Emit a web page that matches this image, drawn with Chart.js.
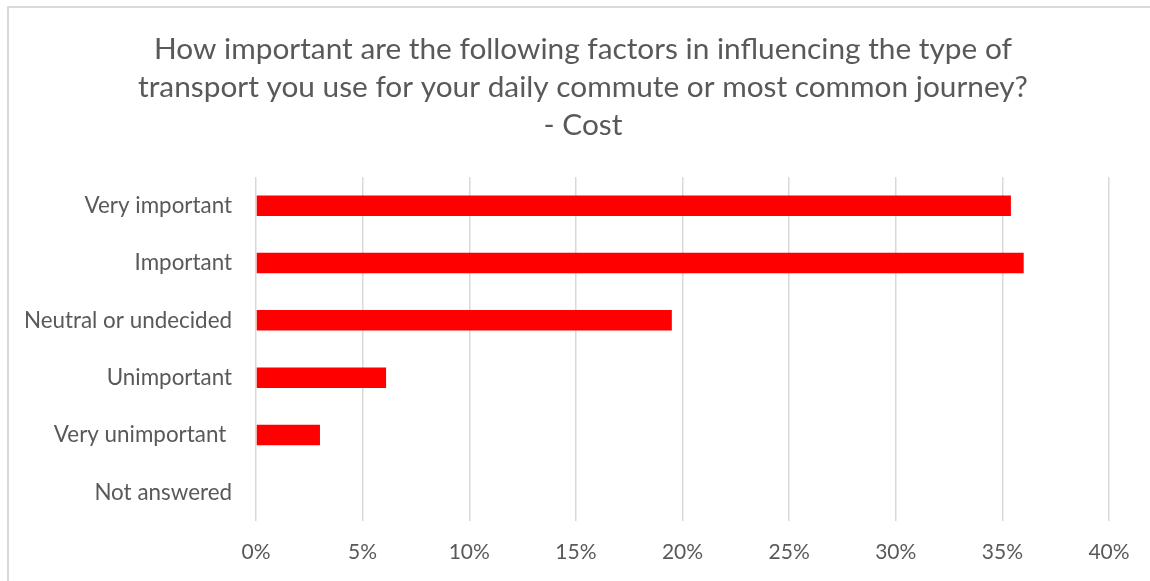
<!DOCTYPE html>
<html>
<head>
<meta charset="utf-8">
<title>Transport factors - Cost</title>
<script src="https://cdn.jsdelivr.net/npm/chart.js@4/dist/chart.umd.min.js"></script>
<style>
  html, body {
    margin: 0;
    padding: 0;
    background: #fff;
    overflow: hidden;
  }
  .frame {
    position: absolute;
    left: 7px;
    top: 6px;
    width: 1160px;
    height: 600px;
    border: 2px solid #d9d9d9;
    box-sizing: border-box;
  }
  .wrap {
    position: absolute;
    left: 0;
    top: 0;
    width: 1150px;
    height: 581px;
  }
</style>
</head>
<body>
<div class="frame"></div>
<div class="wrap"><canvas id="chart"></canvas></div>
<script>
const titleLines = [
  "How important are the following factors in influencing the type of",
  "transport you use for your daily commute or most common journey?",
  "- Cost"
];
const categories = [
  "Very important",
  "Important",
  "Neutral or undecided",
  "Unimportant",
  "Very unimportant ",
  "Not answered"
];
const shares = [35.4, 36.0, 19.5, 6.1, 3.0, 0];
const xTicks = [0, 5, 10, 15, 20, 25, 30, 35, 40];

const textGrey = "#595959";
const fontFamily = "Lato, 'Open Sans', sans-serif";

// the title sits over the middle of the whole frame, not the padded box,
// so it is drawn by hand instead of through the title plugin
const frameTitle = {
  id: "frameTitle",
  afterDraw(chart) {
    const c = chart.ctx;
    c.save();
    c.fillStyle = textGrey;
    c.font = "29.8px " + fontFamily;
    c.textAlign = "center";
    c.textBaseline = "middle";
    titleLines.forEach((line, i) => {
      c.fillText(line, 583, 49 + i * 38);
    });
    c.restore();
  },
};

const ctx = document.getElementById("chart").getContext("2d");
new Chart(ctx, {
  type: "bar",
  data: {
    labels: categories,
    datasets: [
      {
        data: shares,
        backgroundColor: "#ff0000",
        categoryPercentage: 1,
        barPercentage: 0.357,
      },
    ],
  },
  plugins: [frameTitle],
  options: {
    indexAxis: "y",
    responsive: true,
    maintainAspectRatio: false,
    animation: false,
    layout: { padding: { left: 0, right: 41, top: 177, bottom: 0 } },
    plugins: {
      legend: { display: false },
      tooltip: { enabled: false },
      title: { display: false },
    },
    scales: {
      x: {
        min: 0,
        max: 40,
        afterBuildTicks: (scale) => {
          scale.ticks = xTicks.map((v) => ({ value: v }));
        },
        afterFit: (scale) => {
          scale.height = 60;
        },
        grid: { color: "#d9d9d9", lineWidth: 1.5, drawTicks: false },
        border: { display: false },
        ticks: {
          color: textGrey,
          padding: 19,
          font: { family: fontFamily, size: 21 },
          callback: (v) => v + "%",
        },
      },
      y: {
        afterFit: (scale) => {
          scale.width = 256;
        },
        grid: { display: false },
        border: { display: false },
        ticks: {
          color: textGrey,
          padding: 16,
          font: { family: fontFamily, size: 22.4 },
        },
      },
    },
  },
});
</script>
</body>
</html>
